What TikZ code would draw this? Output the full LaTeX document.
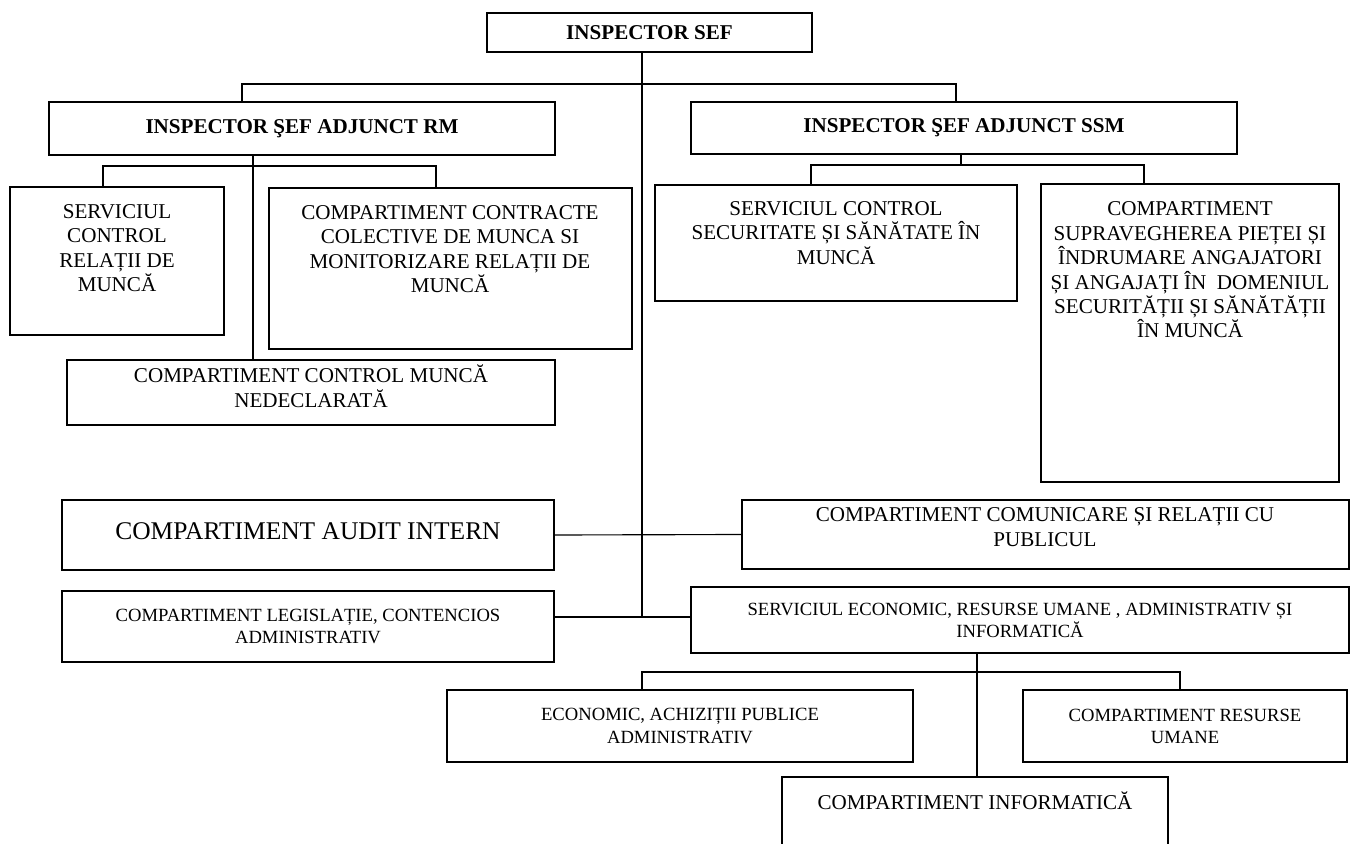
\documentclass[tikz,border=0pt]{standalone}
\usepackage{fontspec}
\setmainfont{Liberation Serif}
\usetikzlibrary{fit}
\tikzstyle{orgbox} = [rectangle, draw=black, line width=1.1pt, inner sep=0pt, align=center, font=\fontsize{12}{13.9}\selectfont]
\tikzstyle{headbox} = [orgbox, font=\fontsize{12}{13.9}\selectfont\bfseries]
\tikzstyle{boxtext} = [align=center, inner sep=0pt, font=\fontsize{12}{13.9}\selectfont]
\tikzstyle{smalltext} = [font=\fontsize{10.6}{12.6}\selectfont]
\tikzstyle{link} = [line width=0.65pt]

\begin{document}
\begin{tikzpicture}[x=0.02cm, y=-0.02cm]
    \useasboundingbox (0,0) rectangle (1352,844);
    \clip (0,0) rectangle (1352,844);

    % conducere
    \node (chief) [headbox, minimum width=6.5cm, minimum height=0.78cm] at (649.5,32.5) {INSPECTOR SEF};
    \node (rm) [headbox, minimum width=10.12cm, minimum height=1.06cm] at (302,128.5) {INSPECTOR ŞEF ADJUNCT RM};
    \node (ssm) [headbox, minimum width=10.92cm, minimum height=1.04cm] at (964,128) {INSPECTOR ŞEF ADJUNCT SSM};

    % relatii de munca
    \node (ctrlrm) [orgbox, fit={(10,187) (224,335)}] {};
    \node (ctrlrmtext) [boxtext] at (117,248) {SERVICIUL\\CONTROL\\RELAȚII DE\\MUNCĂ};
    \node (cct) [orgbox, fit={(269,188) (632,349)}] {};
    \node (ccttext) [boxtext] at (450,249) {COMPARTIMENT CONTRACTE\\COLECTIVE DE MUNCA SI\\MONITORIZARE RELAȚII DE\\MUNCĂ};
    \node (nedecl) [orgbox, fit={(67,360) (555,425)}] {};
    \node (nedecltext) [boxtext] at (311,386) {COMPARTIMENT CONTROL MUNCĂ\\NEDECLARATĂ};

    % securitate si sanatate
    \node (ctrlssm) [orgbox, fit={(655,185) (1017,301)}] {};
    \node (ctrlssmtext) [boxtext] at (836,233) {SERVICIUL CONTROL\\SECURITATE ȘI SĂNĂTATE ÎN\\MUNCĂ};
    \node (supr) [orgbox, fit={(1041,184) (1339,482)}] {};
    \node (suprtext) [boxtext] at (1190,270) {COMPARTIMENT\\SUPRAVEGHEREA PIEȚEI ȘI\\ÎNDRUMARE ANGAJATORI\\ȘI ANGAJAȚI ÎN~ DOMENIUL\\SECURITĂȚII ȘI SĂNĂTĂȚII\\ÎN MUNCĂ};

    % compartimente subordonate direct
    \node (audit) [orgbox, fit={(62,500) (554,570)}] {};
    \node (audittext) [boxtext, font=\fontsize{14.5}{16}\selectfont] at (308,531) {COMPARTIMENT AUDIT INTERN};
    \node (comunic) [orgbox, fit={(742,500) (1349,569)}] {};
    \node (comunictext) [boxtext] at (1045,527) {COMPARTIMENT COMUNICARE ȘI RELAȚII CU\\PUBLICUL};
    \node (legis) [orgbox, smalltext, minimum width=9.84cm, minimum height=1.42cm] at (308,626.5) {COMPARTIMENT LEGISLAȚIE, CONTENCIOS\\ADMINISTRATIV};
    \node (servec) [orgbox, smalltext, minimum width=13.16cm, minimum height=1.32cm] at (1020,620) {SERVICIUL ECONOMIC, RESURSE UMANE , ADMINISTRATIV ȘI\\INFORMATICĂ};

    % serviciul economic
    \node (econ) [orgbox, smalltext, minimum width=9.32cm, minimum height=1.44cm] at (680,726) {ECONOMIC, ACHIZIȚII PUBLICE\\ADMINISTRATIV};
    \node (resum) [orgbox, smalltext, minimum width=6.48cm, minimum height=1.44cm] at (1185,726) {COMPARTIMENT RESURSE\\UMANE};
    \node (inform) [orgbox, fit={(782,777) (1168,880)}] {};
    \node (informtext) [boxtext] at (975,801) {COMPARTIMENT INFORMATICĂ};

    \coordinate (busrm) at (242,84);
    \coordinate (busssm) at (956,84);
    \coordinate (spine) at (642,617);
    \coordinate (rmleft) at (103,166);
    \coordinate (rmright) at (436,166);
    \coordinate (rmspine) at (253,166);
    \coordinate (ssmleft) at (811,165);
    \coordinate (ssmright) at (1144,165);
    \coordinate (ssmspine) at (961,165);
    \coordinate (ecleft) at (642,672);
    \coordinate (ecright) at (1180,672);
    \coordinate (ecspine) at (977,672);

    \draw [link] (chief.south -| spine) -- (spine);
    \draw [link] (busrm |- rm.north) -- (busrm) -- (busssm) -- (busssm |- ssm.north);
    \draw [link] (rm.south -| rmspine) -- (nedecl.north -| rmspine);
    \draw [link] (ctrlrm.north -| rmleft) -- (rmleft) -- (rmright) -- (cct.north -| rmright);
    \draw [link] (ssm.south -| ssmspine) -- (ssmspine);
    \draw [link] (ctrlssm.north -| ssmleft) -- (ssmleft) -- (ssmright) -- (supr.north -| ssmright);
    \draw [link] (audit.east) -- (comunic.west);
    \draw [link, line width=1.1pt] (legis.east |- spine) -- (servec.west |- spine);
    \draw [link] (servec.south -| ecspine) -- (inform.north -| ecspine);
    \draw [link] (econ.north -| ecleft) -- (ecleft) -- (ecright) -- (resum.north -| ecright);
\end{tikzpicture}
\end{document}
